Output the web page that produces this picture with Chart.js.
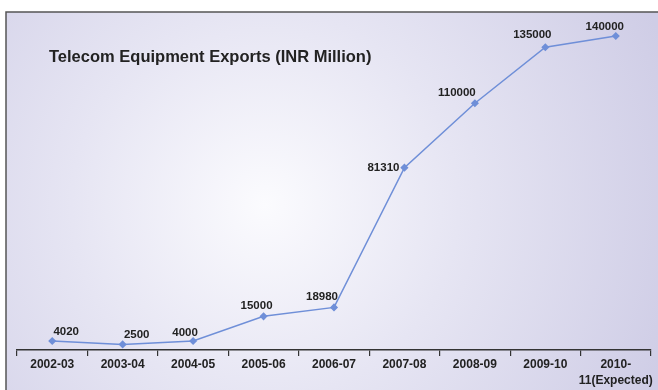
<!DOCTYPE html>
<html>
<head>
<meta charset="utf-8">
<script src="https://cdn.jsdelivr.net/npm/chart.js@4"></script>
<style>
  html, body { margin: 0; padding: 0; background: #fff; }
  #wrap { width: 658px; height: 390px; position: relative; }
</style>
</head>
<body>
<div id="wrap"><canvas id="chart"></canvas></div>
<script>
// Data
const years = ['2002-03', '2003-04', '2004-05', '2005-06', '2006-07', '2007-08', '2008-09', '2009-10', ['2010-', '11(Expected)']];
const exports = [4020, 2500, 4000, 15000, 18980, 81310, 110000, 135000, 140000];
const chartTitle = 'Telecom Equipment Exports (INR Million)';

// label nudges relative to each point (dx, dy, align)
const labelShift = [[14, -9, 'center'], [14, -10, 'center'], [-8, -8, 'center'], [-7, -11, 'center'], [-12, -11, 'center'],
                    [-5, 0, 'right'], [-18, -10, 'center'], [-13, -12, 'center'], [-11, -9, 'center']];

const backdrop = {
    id: 'backdrop',
    beforeDraw(chart) {
        const ctx = chart.ctx;
        const w = chart.width, h = chart.height;
        ctx.save();
        ctx.fillStyle = '#fff';
        ctx.fillRect(0, 0, w, h);
        const g = ctx.createRadialGradient(265, 205, 0, 265, 205, 430);
        g.addColorStop(0, '#fbfbfe');
        g.addColorStop(0.45, '#e6e5f3');
        g.addColorStop(1, '#cfcde6');
        ctx.fillStyle = g;
        ctx.fillRect(6, 12, w - 6, h - 12);
        ctx.strokeStyle = '#555';
        ctx.lineWidth = 1.5;
        ctx.strokeRect(6, 12, w + 10, h + 10);
        ctx.fillStyle = '#222';
        ctx.font = 'bold 16.5px "Liberation Sans", Arial, sans-serif';
        ctx.textBaseline = 'middle';
        ctx.fillText(chartTitle, 49, 57);
        ctx.restore();
    }
};

const valueLabels = {
    id: 'valueLabels',
    afterDatasetsDraw(chart) {
        const ctx = chart.ctx;
        const meta = chart.getDatasetMeta(0);
        ctx.save();
        ctx.fillStyle = '#222';
        ctx.font = 'bold 11.5px "Liberation Sans", Arial, sans-serif';
        ctx.textBaseline = 'middle';
        meta.data.forEach((pt, i) => {
            const [dx, dy, align] = labelShift[i];
            ctx.textAlign = align;
            ctx.fillText(String(exports[i]), pt.x + dx, pt.y + dy);
        });
        ctx.restore();
    }
};

new Chart(document.getElementById('chart'), {
    type: 'line',
    data: {
        labels: years,
        datasets: [{
            data: exports,
            borderColor: '#6f8fd8',
            backgroundColor: '#6f8fd8',
            borderWidth: 1.5,
            pointStyle: 'rectRot',
            pointRadius: 3,
            tension: 0,
            clip: false
        }]
    },
    options: {
        responsive: true,
        maintainAspectRatio: false,
        animation: false,
        layout: { padding: { left: 17, right: 7, top: 36, bottom: 0 } },
        plugins: {
            legend: { display: false },
            tooltip: { enabled: false }
        },
        scales: {
            x: {
                offset: true,
                grid: {
                    offset: true,
                    drawOnChartArea: false,
                    drawTicks: true,
                    tickLength: 6,
                    color: '#333',
                    lineWidth: 1.2
                },
                border: { color: '#333', width: 1.5 },
                ticks: {
                    color: '#222',
                    padding: 1,
                    maxRotation: 0,
                    autoSkip: false,
                    font: { family: '"Liberation Sans", Arial, sans-serif', size: 12, weight: 'bold', lineHeight: 1.3 }
                },
                afterFit(scale) { scale.height = 40; }
            },
            y: {
                display: false,
                min: 0,
                max: 140000
            }
        }
    },
    plugins: [backdrop, valueLabels]
});
</script>
</body>
</html>
